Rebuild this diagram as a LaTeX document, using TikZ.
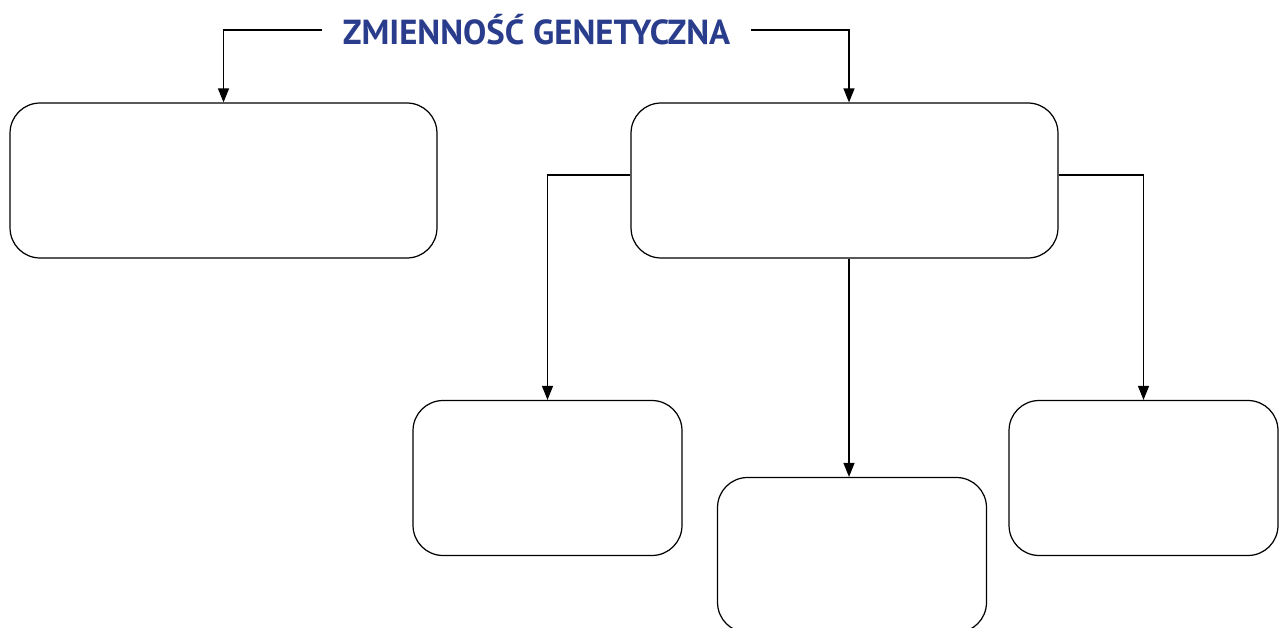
\documentclass[tikz,border=0pt]{standalone}
\usepackage{fontspec}
\setmainfont{PT Sans}
\usetikzlibrary{arrows.meta,positioning}

\definecolor{titleblue}{RGB}{42,61,140}

\tikzset{
  box/.style={draw, rounded corners=0.6cm, line width=0.7pt,
    minimum height=3.1cm, inner sep=0pt},
  bigbox/.style={box, minimum width=8.54cm},
  smallbox/.style={box, minimum width=5.38cm},
  link/.style={line width=0.7pt, -{Triangle[length=0.28cm,width=0.22cm]}}
}

\begin{document}
\begin{tikzpicture}[x=0.02cm,y=-0.02cm]

  % fix the page to the size of the reference
  \useasboundingbox (0,0) rectangle (1281,628);

  % title
  \node [text=titleblue, font=\bfseries\fontsize{19.8}{22}\selectfont,
    inner xsep=0.4cm] (title) at (536.5,30) {ZMIENNOŚĆ GENETYCZNA};

  % upper boxes
  \node [bigbox] (left)  at (223.5,180.5) {};
  \node [bigbox] (right) at (844.5,180.5) {};

  % lower boxes
  \node [smallbox] (low1) at (547.5,478) {};
  \node [smallbox] (low2) at (852,555) {};
  \node [smallbox] (low3) at (1143.5,478) {};

  % arrows from the title
  \draw [link] (title.west) -| (left.north);
  \draw [link] (title.east) -| ([xshift=0.09cm]right.north);

  % arrows from the right box
  \draw [link] ([yshift=0.11cm]right.west) -| (low1.north);
  \draw [link] ([yshift=0.11cm]right.east) -| (low3.north);
  \draw [link] ([xshift=0.09cm]right.south) -- ([xshift=0.09cm]right.south |- low2.north);

\end{tikzpicture}
\end{document}
